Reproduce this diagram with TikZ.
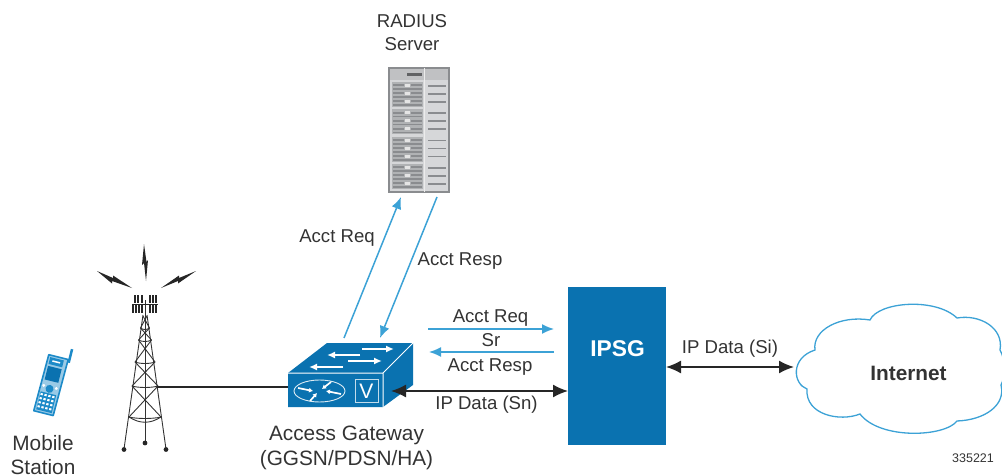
\documentclass[tikz,border=0pt]{standalone}
\usepackage{fontspec}
\setmainfont{Liberation Sans}
\usetikzlibrary{arrows.meta}
\definecolor{ciscoblue}{HTML}{0A72B0}
\definecolor{linkblue}{HTML}{3CA2D6}
\definecolor{txt}{HTML}{333333}
\definecolor{rackmid}{HTML}{B0B2B4}
\definecolor{rackdark}{HTML}{8A8C8F}
\definecolor{racklight}{HTML}{D6D7D9}
\definecolor{phoneblue}{HTML}{1C8AC8}
\tikzset{
  lbl/.style={text=txt,font=\fontsize{18.6}{23}\selectfont,inner sep=0pt,align=center},
  lblbig/.style={text=txt,font=\fontsize{20.8}{24.5}\selectfont,inner sep=0pt,align=center},
  bluearrow/.style={draw=linkblue,line width=1.5pt,-{Latex[length=12pt,width=10pt]}},
  blackarrow/.style={draw=black!85,line width=1.5pt,{Latex[length=15pt,width=13pt]}-{Latex[length=15pt,width=13pt]}},
  plainlink/.style={draw=black!85,line width=1.4pt},
  towerline/.style={draw=black!80,line width=0.9pt},
  bolt/.style={fill=black!85,draw=none},
}
\begin{document}
\begin{tikzpicture}[x=1pt,y=-1pt]
\useasboundingbox (0,0) rectangle (1002,476);
\node[inner sep=0pt,minimum width=98pt,minimum height=158pt,fill=ciscoblue] (ipsg) at (617,366) {};
\node[text=white,font=\bfseries\fontsize{22.8}{25}\selectfont,inner sep=0pt] (ipsglabel) at (617.5,349) {IPSG};
\coordinate (twr) at (157,387);
\coordinate (gwL) at (288,387);
\coordinate (gwR) at (391,391);
\coordinate (ipsgL) at (568,391);
\coordinate (ipsgR) at (666,367);
\coordinate (cloudL) at (794,367);
\coordinate (gwA) at (344,338);
\coordinate (srvA) at (401,197);
\coordinate (srvB) at (437,197);
\coordinate (gwB) at (380,338);
\coordinate (srA) at (428,329);
\coordinate (ipA) at (554,329);
\coordinate (ipB) at (554,352);
\coordinate (srB) at (429,352);
% server
\fill[racklight] (388,67) rectangle (450,193);
\draw[rackdark,line width=1.2pt] (389,68) rectangle (449,192);
\fill[rackmid!80!white] (390,69) rectangle (448,80);
\fill[rackdark!70!black] (407,73) rectangle (422,76.5);
\draw[white!85!gray,line width=.8pt] (424.5,68) -- (424.5,192);
\foreach \g in {0,1,2,3}{
  \begin{scope}[yshift=-\g*27.3pt]
  \fill[rackmid] (392,82) rectangle (423,107);
  \foreach \r in {0,8,16}{
    \fill[rackdark] (393,84.5+\r) rectangle (404,86.5+\r);
    \fill[rackdark] (411,84.5+\r) rectangle (422,86.5+\r);
    \fill[rackdark] (393,88.5+\r) rectangle (422,90+\r);
    \fill[white!80!gray] (405,84+\r) rectangle (410,87+\r);
    \fill[rackdark] (428,85+\r) rectangle (446,86.8+\r);
  }
  \end{scope}
}
% cloud
\draw[linkblue,line width=1.3pt,fill=white]
 (807,389) .. controls (793,384) and (790,358) .. (815,350)
 .. controls (812,330) and (840,315) .. (870,320)
 .. controls (878,302) and (935,297) .. (957,318)
 .. controls (980,314) and (1004,328) .. (1000,350)
 .. controls (1006,360) and (1005,378) .. (1001,385)
 .. controls (1006,405) and (985,420) .. (957,421)
 .. controls (945,437) and (880,440) .. (860,414)
 .. controls (840,422) and (805,415) .. (807,389) -- cycle;
\node[text=txt,font=\bfseries\fontsize{20.8}{23}\selectfont,inner sep=0pt] (inet) at (908.5,373) {Internet};
% tower
\begin{scope}[towerline]
 \draw (145,300) -- (145,442);
 \draw (143,315) -- (124,449);
 \draw (147,315) -- (166,449);
 \foreach \y/\hw in {328/4.5,340/6.5,362/10,386/13,417/16}{
   \draw (145-\hw,\y) .. controls (145-\hw/2,\y+2) and (145+\hw/2,\y+2) .. (145+\hw,\y);
 }
 \draw (145-13,386) -- (145+10,362) (145+13,386) -- (145-10,362);
 \draw (145-10,362) -- (145+6.5,340) (145+10,362) -- (145-6.5,340);
 \draw (145-16,417) -- (145+13,386) (145+16,417) -- (145-13,386);
 \draw (145-6.5,340) -- (145+4.5,328) (145+6.5,340) -- (145-4.5,328);
 \draw (145-4.5,328) -- (145+2,316) (145+4.5,328) -- (145-2,316);
 \draw (145-16,417) .. controls (140,424) and (150,424) .. (145+16,417);
\end{scope}
\fill[black!85] (124,449.5) circle (2.4pt) (145,443) circle (2.4pt) (166,449.5) circle (2.4pt);
\foreach \x in {132,135,138,141,149,152,155}{\fill[black!85] (\x,305) rectangle (\x+2.4,313);}
\foreach \x in {134,137,141,149,152,155}{\fill[black!85] (\x,295) rectangle (\x+2,303);}
\fill[black!85] (132,303.5) rectangle (158,304.5);
% lightning bolts
\fill[bolt] (144,244) -- (146.5,262) -- (148,260) -- (146,281) -- (144,263) -- (142,265) -- cycle;
\fill[bolt] (97,271) -- (113,278) -- (113,275.5) -- (132,288) -- (112,281) -- (112,283.5) -- cycle;
\fill[bolt] (196,271) -- (179,278) -- (179,275.5) -- (161,288) -- (178,281) -- (178,283.5) -- cycle;
% phone
\begin{scope}[shift={(50.5,385)},rotate=-14]
 \draw[phoneblue,line width=1.6pt,fill=white!55!phoneblue,line join=round]
   (-9,-29) -- (11,-29) -- (10,29) -- (-10,29) -- cycle;
 \fill[ciscoblue] (-7,-18) rectangle (7,-4);
 \fill[phoneblue] (-7,-27) rectangle (7,-20);
 \fill[white] (-4,-24.5) rectangle (4,-23);
 \fill[phoneblue] (11,-40) rectangle (13.5,-26);
 \fill[phoneblue] (0,4) circle (4pt);
 \fill[phoneblue] (-8,8.5) rectangle (8,27);
 \foreach \i in {0,1,2,3}{\foreach \j in {0,1,2,3}{
   \fill[white] (-7.5+\j*4,10+\i*4.2) rectangle (-5.2+\j*4,12+\i*4.2);
 }}
 \fill[white] (-6.5,2) circle (1.6pt) (6.5,2) circle (1.6pt);
\end{scope}
% gateway
\fill[ciscoblue] (288,373) -- (327,343) -- (413,343) -- (413,385) -- (383,407) -- (288,407) -- cycle;
\draw[white,line width=1pt,line join=round] (288,373) -- (383,373) -- (413,343) (383,373) -- (383,407);
\draw[white!75!ciscoblue,line width=.9pt] (355,379) rectangle (378,402);
\node[text=white,font=\fontsize{21}{22}\selectfont,inner sep=0pt] (vlabel) at (366.5,391) {V};
\draw[white!85!ciscoblue,line width=.9pt] (319.5,391) ellipse (25.5pt and 11pt);
\foreach \x/\y/\a/\b in {298/388/313/391,341/394/326/391,310/401/317/393,331/382/322/389}{
  \draw[white,line width=1.7pt,-{Latex[length=4pt,width=5pt]}] (\x,\y) -- (\a,\b);
}
\foreach \xa/\xb/\ya in {362/394/349,360/327/355,348/382/361,343/309/367}{
  \draw[white,line width=1.7pt,-{Latex[length=8pt,width=7pt]}] (\xa,\ya) -- (\xb,\ya);
}
% connectors
\draw[plainlink] (twr) -- (gwL);
\draw[blackarrow] (gwR) -- (ipsgL);
\draw[blackarrow] (ipsgR) -- (cloudL);
\draw[bluearrow] (gwA) -- (srvA);
\draw[bluearrow] (srvB) -- (gwB);
\draw[bluearrow] (srA) -- (ipA);
\draw[bluearrow] (ipB) -- (srB);
% labels
\node[lbl] (radius) at (412,33) {RADIUS\\Server};
\node[lbl] (req1) at (337,238) {Acct Req};
\node[lbl] (resp1) at (460,261) {Acct Resp};
\node[lbl] (req2) at (490.5,318) {Acct Req};
\node[lbl] (sr) at (491,340) {Sr};
\node[lbl] (resp2) at (490,367) {Acct Resp};
\node[lbl] (sn) at (486.5,405) {IP Data (Sn)};
\node[lbl] (si) at (730,349) {IP Data (Si)};
\node[lblbig] (agw) at (346.5,448) {Access Gateway\\(GGSN/PDSN/HA)};
\node[lblbig] (ms) at (43,455) {Mobile\\Station};
\node[text=txt,font=\fontsize{12.5}{14}\selectfont,inner sep=0pt] (idnum) at (973,458) {335221};
\end{tikzpicture}
\end{document}
